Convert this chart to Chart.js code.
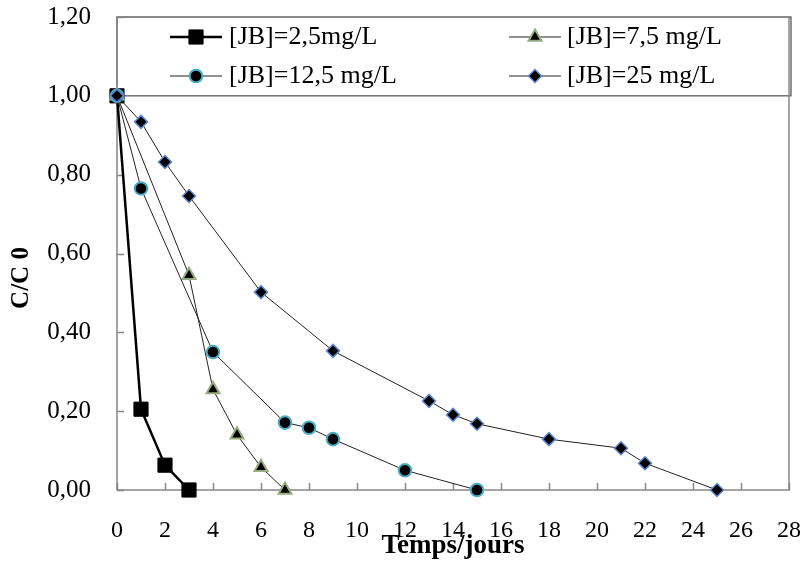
<!DOCTYPE html>
<html><head><meta charset="utf-8">
<script src="https://cdn.jsdelivr.net/npm/chart.js@4"></script>
<style>html,body{margin:0;padding:0;background:#fff}#wrap{width:803px;height:566px}</style>
</head><body><div id="wrap"><canvas id="c" width="803" height="566"></canvas></div>
<script>
const xTickValues = [0,2,4,6,8,10,12,14,16,18,20,22,24,26,28];
const yTickValues = [0,0.2,0.4,0.6,0.8,1.0,1.2];
const seriesNames = ["[JB]=2,5mg/L", "[JB]=7,5 mg/L", "[JB]=12,5 mg/L", "[JB]=25 mg/L"];
const days_2_5 = [0, 1, 2, 3];
const ratio_2_5 = [1.00, 0.205, 0.063, 0.00];
const days_7_5 = [0, 3, 4, 5, 6, 7];
const ratio_7_5 = [1.00, 0.545, 0.255, 0.14, 0.058, 0.00];
const days_12_5 = [0, 1, 4, 7, 8, 9, 12, 15];
const ratio_12_5 = [1.00, 0.765, 0.35, 0.171, 0.158, 0.129, 0.05, 0.00];
const days_25 = [0, 1, 2, 3, 6, 9, 13, 14, 15, 18, 21, 22, 25];
const ratio_25 = [1.00, 0.934, 0.832, 0.746, 0.502, 0.353, 0.226, 0.191, 0.168, 0.129, 0.106, 0.068, 0.00];
const xTitle = "Temps/jours";
const yTitle = "C/C 0";

const pts = (xs, ys) => xs.map((x, i) => ({x: x, y: ys[i]}));
const SERIF = "'Liberation Serif', 'Times New Roman', serif";

const datasets = [
  {label: seriesNames[0], data: pts(days_2_5, ratio_2_5), borderColor: '#000', borderWidth: 2.5,
   pointStyle: 'rect', pointRadius: 10, pointBackgroundColor: '#000', pointBorderColor: '#000', pointBorderWidth: 1},
  {label: seriesNames[1], data: pts(days_7_5, ratio_7_5), borderColor: '#222', borderWidth: 1,
   pointStyle: 'triangle', pointRadius: 7.5, pointBackgroundColor: '#000', pointBorderColor: '#98ac82', pointBorderWidth: 2},
  {label: seriesNames[2], data: pts(days_12_5, ratio_12_5), borderColor: '#222', borderWidth: 1,
   pointStyle: 'circle', pointRadius: 6.3, pointBackgroundColor: '#000', pointBorderColor: '#4bacc6', pointBorderWidth: 2},
  {label: seriesNames[3], data: pts(days_25, ratio_25), borderColor: '#222', borderWidth: 1,
   pointStyle: 'rectRot', pointRadius: 6.5, pointBackgroundColor: '#000', pointBorderColor: '#5a86d0', pointBorderWidth: 1.5}
];
datasets.forEach((d, i) => { d.tension = 0; d.clip = false; d.fill = false; d.order = 4 - i; });

const frame = {
  id: 'frame',
  beforeDatasetsDraw(chart) {
    const {ctx, chartArea: a, scales: {x, y}} = chart;
    ctx.save();
    const ly = y.getPixelForValue(1.0);
    ctx.strokeStyle = '#5a5a5a';
    ctx.lineWidth = 1.3;
    ctx.strokeRect(a.left, a.top, a.right + 2 - a.left, ly - a.top);
    ctx.strokeStyle = '#878787';
    ctx.lineWidth = 1.5;
    ctx.strokeRect(a.left, a.top, a.right - a.left, a.bottom - a.top);
    ctx.beginPath();
    xTickValues.forEach(v => { const px = Math.round(x.getPixelForValue(v)) + 0.5; ctx.moveTo(px, a.bottom); ctx.lineTo(px, a.bottom - 7); });
    yTickValues.forEach(v => { const py = Math.round(y.getPixelForValue(v)) + 0.5; ctx.moveTo(a.left, py); ctx.lineTo(a.left + 7, py); });
    ctx.stroke();
    const cols = [{x1: 170, x2: 222, tx: 229}, {x1: 509, x2: 561, tx: 567}];
    const rows = [37, 76];
    const order = [[0, 0, 0], [1, 1, 0], [2, 0, 1], [3, 1, 1]];
    ctx.font = "26px " + SERIF;
    ctx.textBaseline = 'middle';
    ctx.textAlign = 'left';
    order.forEach(([i, c, r]) => {
      const d = chart.data.datasets[i];
      const col = cols[c], yy = rows[r];
      ctx.strokeStyle = d.borderColor; ctx.lineWidth = d.borderWidth;
      ctx.beginPath(); ctx.moveTo(col.x1, yy); ctx.lineTo(col.x2, yy); ctx.stroke();
      ctx.fillStyle = d.pointBackgroundColor; ctx.strokeStyle = d.pointBorderColor; ctx.lineWidth = d.pointBorderWidth;
      Chart.helpers.drawPoint(ctx, {pointStyle: d.pointStyle, radius: d.pointRadius, rotation: 0, borderWidth: d.pointBorderWidth}, (col.x1 + col.x2) / 2, yy);
      ctx.fillStyle = '#000';
      ctx.fillText(d.label, col.tx, yy);
    });
    // y axis title
    ctx.translate(22, 278);
    ctx.rotate(-Math.PI / 2);
    ctx.font = "bold 25px " + SERIF;
    ctx.textAlign = 'center';
    ctx.textBaseline = 'middle';
    ctx.fillStyle = '#000';
    ctx.fillText(yTitle, 0, 0);
    ctx.restore();
  }
};

new Chart(document.getElementById('c'), {
  type: 'line',
  data: {datasets: datasets},
  options: {
    responsive: false, animation: false, devicePixelRatio: 1,
    layout: {padding: {top: 17, right: 14, left: 0, bottom: 0}},
    plugins: {legend: {display: false}, tooltip: {enabled: false}},
    scales: {
      x: {
        type: 'linear', min: 0, max: 28,
        afterBuildTicks: s => { s.ticks = xTickValues.map(v => ({value: v})); },
        afterFit: s => { s.height = 76; s.paddingLeft = 0; s.paddingRight = 0; },
        grid: {display: false, drawTicks: false}, border: {display: false},
        ticks: {color: '#000', padding: 26, maxRotation: 0, autoSkip: false, font: {family: SERIF, size: 24}},
        title: {display: true, text: xTitle, color: '#000', padding: {top: 0, bottom: 4}, font: {family: SERIF, size: 27, weight: 'bold'}}
      },
      y: {
        type: 'linear', min: 0, max: 1.2,
        afterBuildTicks: s => { s.ticks = yTickValues.map(v => ({value: v})); },
        afterFit: s => { s.width = 117; s.paddingTop = 0; s.paddingBottom = 0; },
        grid: {display: false, drawTicks: false}, border: {display: false},
        ticks: {color: '#000', padding: 26, autoSkip: false, font: {family: SERIF, size: 25},
          callback: v => Number(v).toFixed(2).replace('.', ',')},
        title: {display: false}
      }
    }
  },
  plugins: [frame]
});
</script></body></html>
